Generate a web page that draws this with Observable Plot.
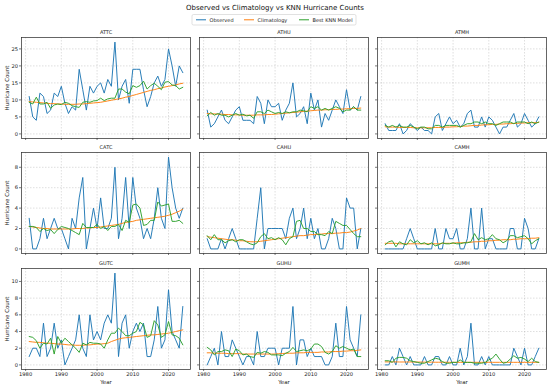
<!DOCTYPE html>
<html><head><meta charset="utf-8">
<script src="https://cdn.jsdelivr.net/npm/d3@7"></script>
<script src="https://cdn.jsdelivr.net/npm/@observablehq/plot@0.6"></script>
<style>
body{margin:0;background:#fff;}
#chart{position:relative;width:550px;height:388px;overflow:hidden;background:#fff;font-family:"DejaVu Sans",sans-serif;}
#chart svg{position:absolute;}
</style></head><body><div id="chart"></div>
<script>
const years = [1981,1982,1983,1984,1985,1986,1987,1988,1989,1990,1991,1992,1993,1994,1995,1996,1997,1998,1999,2000,2001,2002,2003,2004,2005,2006,2007,2008,2009,2010,2011,2012,2013,2014,2015,2016,2017,2018,2019,2020,2021,2022,2023,2024];

const ATTC_obs = [11,5,4,12,11,6,7,12,11,14, 9,6,8,7,19,13,7,14,12,14, 15,12,16,14,27,10,14,16,9,19, 19,19,13,8,11,15,17,14,16,25, 20,14,20,18];
const ATTC_clim = [9.5,9.4,9.3,9.2,9.1,9.0,8.9,8.9,8.8,8.8, 8.7,8.7,8.7,8.7,8.8,8.8,8.9,9.0,9.1,9.2, 9.3,9.5,9.7,9.9,10.1,10.3,10.5,10.8,11.0,11.3, 11.6,11.9,12.2,12.5,12.8,13.0,13.3,13.5,13.8,14.0, 14.2,14.4,14.7,14.9];
const ATTC_knn = [9.3,8.8,10.8,8.8,8.8,9.3,7.5,8.5,8.8,8.6, 9.3,9.0,8.3,8.0,7.8,9.3,9.5,9.3,9.7,9.8, 10.5,9.8,10.3,10.5,10.5,13.2,13.2,12.3,11.8,14.2, 13.7,14.2,15.5,13.2,14.2,14.9,14.0,13.0,15.2,15.4, 14.4,14.2,13.2,13.7];

const ATHU_obs = [7,2,3,5,7,4,3,5,7,8, 4,4,4,3,11,9,3,10,8,8, 9,4,7,9,15,5,6,8,3,12, 7,10,2,6,4,7,10,8,6,13, 7,8,7,11];
const ATHU_clim = [6.0,5.9,5.9,5.8,5.8,5.7,5.7,5.6,5.6,5.6, 5.5,5.5,5.5,5.5,5.6,5.6,5.6,5.7,5.7,5.8, 5.9,6.0,6.1,6.2,6.3,6.4,6.5,6.6,6.7,6.8, 6.9,7.0,7.0,7.1,7.1,7.2,7.2,7.3,7.3,7.4, 7.4,7.5,7.5,7.6];
const ATHU_knn = [5.3,6.3,5.5,6.0,5.5,5.5,5.0,5.5,6.0,5.5, 5.8,5.3,5.5,4.6,6.5,6.5,6.0,7.0,6.5,6.0, 6.3,6.0,6.5,6.2,6.5,6.5,7.0,6.8,6.5,8.0, 7.5,8.0,7.0,7.5,7.0,7.5,8.0,7.5,6.5,7.0, 7.0,8.0,7.0,7.0];

const ATMH_obs = [3,1,1,1,3,0,1,3,2,1, 2,1,1,0,5,6,1,3,5,3, 4,2,3,6,7,2,2,5,2,5, 4,2,0,2,2,4,6,2,3,6, 4,2,3,5];
const ATMH_clim = [2.1,2.0,2.0,2.0,1.9,1.9,1.9,1.9,1.8,1.8, 1.8,1.8,1.8,1.8,1.9,1.9,1.9,2.0,2.0,2.1, 2.1,2.2,2.3,2.3,2.4,2.5,2.5,2.6,2.7,2.7, 2.8,2.8,2.9,2.9,3.0,3.0,3.1,3.1,3.2,3.2, 3.3,3.3,3.3,3.4];
const ATMH_knn = [2.5,2.0,2.5,2.0,2.5,2.0,2.0,2.5,2.0,1.5, 2.0,2.0,1.5,1.5,2.5,2.5,2.0,2.5,2.5,2.5, 2.5,2.0,2.5,3.0,3.0,3.5,3.5,3.0,3.5,3.0, 3.0,2.5,3.0,3.5,3.5,3.5,3.0,3.5,3.5,3.5, 3.0,3.5,3.0,3.5];

const CATC_obs = [3,0,0,1,3,1,2,3,2,2, 1,0,3,2,5,7,0,2,4,2, 5,2,2,3,8,1,3,7,2,7, 4,3,1,2,1,3,6,3,2,9, 6,4,3,4];
const CATC_clim = [2.2,2.15,2.1,2.05,2.0,2.0,1.95,1.95,1.95,1.95, 1.95,1.95,1.95,2.0,2.0,2.0,2.05,2.05,2.1,2.1, 2.15,2.2,2.25,2.3,2.35,2.4,2.5,2.6,2.65,2.7, 2.8,2.85,2.9,2.95,3.0,3.05,3.1,3.15,3.2,3.3, 3.4,3.55,3.7,3.9];
const CATC_knn = [2.2,2.2,2.1,1.7,2.0,1.8,1.9,1.5,1.9,2.2, 2.1,2.0,1.8,1.6,1.4,2.5,2.1,2.1,2.1,2.4, 2.0,2.2,1.8,2.2,2.2,2.4,1.8,2.8,2.6,4.3, 4.4,4.0,2.3,2.4,2.8,2.8,4.6,4.2,4.3,4.4, 2.7,2.7,2.8,2.5];

const CAHU_obs = [1,0,0,0,1,0,1,2,1,0, 0,0,0,0,3,6,0,2,2,2, 2,2,1,3,4,1,2,4,1,3, 1,2,0,0,1,3,2,0,0,5, 4,4,0,2];
const CAHU_clim = [1.2,1.15,1.1,1.05,1.0,0.95,0.9,0.9,0.85,0.8, 0.8,0.75,0.7,0.7,0.7,0.75,0.8,0.85,0.9,0.95, 1.0,1.05,1.1,1.15,1.2,1.25,1.3,1.3,1.35,1.4, 1.4,1.45,1.45,1.5,1.5,1.5,1.55,1.55,1.6,1.6, 1.65,1.75,1.85,2.0];
const CAHU_knn = [1.3,0.9,1.4,0.9,0.9,0.6,0.8,0.9,0.7,0.9, 0.9,0.7,0.5,0.4,0.6,1.2,1.5,1.0,1.1,0.9, 1.1,0.9,0.4,1.0,1.2,2.7,2.8,2.0,2.0,1.7, 1.7,1.4,1.4,1.3,1.7,1.5,2.7,2.5,2.3,2.3, 1.9,1.5,1.2,1.2];

const CAMH_obs = [0,0,0,0,0,0,1,2,1,0, 0,0,0,0,2,0,0,2,1,1, 2,0,0,1,4,0,0,4,0,1, 1,0,0,0,0,2,2,0,0,3, 2,0,0,1];
const CAMH_clim = [0.55,0.55,0.55,0.55,0.5,0.5,0.5,0.5,0.5,0.5, 0.5,0.5,0.5,0.5,0.5,0.5,0.55,0.55,0.55,0.55, 0.6,0.6,0.6,0.65,0.65,0.7,0.7,0.75,0.75,0.8, 0.8,0.85,0.85,0.9,0.9,0.9,0.95,0.95,1.0,1.0, 1.0,1.05,1.05,1.1];
const CAMH_knn = [0.4,0.7,0.8,0.2,0.7,0.5,0.4,0.9,0.6,0.8, 0.5,0.6,0.4,0.6,0.3,0.4,0.6,0.5,0.5,0.6, 0.5,0.5,0.6,0.6,0.7,1.5,0.9,1.1,0.9,1.0, 1.4,1.0,0.9,0.6,0.8,1.3,1.3,1.1,1.2,1.3, 1.0,0.5,0.8,1.0];

const GUTC_obs = [1,2,2,1,5,1,2,5,2,3, 0,1,2,3,6,2,1,6,3,4, 3,5,6,5,11,1,5,6,2,4, 5,4,5,1,1,3,7,2,3,9, 4,3,2,7];
const GUTC_clim = [2.8,2.75,2.7,2.7,2.65,2.6,2.6,2.55,2.5,2.5, 2.45,2.4,2.4,2.35,2.35,2.35,2.4,2.4,2.45,2.5, 2.5,2.55,2.6,2.8,2.95,3.1,3.2,3.25,3.3,3.35, 3.4,3.45,3.5,3.55,3.6,3.6,3.65,3.7,3.75,3.8, 3.9,4.0,4.1,4.2];
const GUTC_knn = [3.4,3.3,2.9,2.0,2.6,2.5,3.2,1.3,3.4,2.6, 3.2,2.8,2.4,2.0,1.5,2.6,2.4,2.7,2.6,2.6, 2.5,2.0,3.0,3.8,3.8,4.4,4.0,3.5,3.5,3.8, 4.0,5.1,4.8,3.3,3.5,5.3,4.8,3.3,3.6,5.2, 3.6,3.5,3.2,2.4];

const GUHU_obs = [0,1,2,0,4,1,1,3,2,1, 0,1,1,0,4,1,1,2,2,2, 0,2,2,2,7,0,3,3,1,2, 1,1,1,0,0,1,5,1,1,7, 3,2,1,6];
const GUHU_clim = [1.45,1.45,1.4,1.4,1.4,1.4,1.35,1.35,1.35,1.35, 1.3,1.3,1.3,1.3,1.3,1.3,1.3,1.3,1.3,1.3, 1.35,1.35,1.4,1.4,1.4,1.45,1.45,1.45,1.5,1.5, 1.5,1.5,1.55,1.55,1.55,1.6,1.6,1.6,1.65,1.65, 1.7,1.7,1.75,1.8];
const GUHU_knn = [2.1,1.8,1.2,1.6,1.6,1.8,1.7,1.0,1.9,1.7, 1.2,1.3,1.0,0.9,1.5,1.4,1.6,1.5,1.2,1.2, 1.2,1.1,1.4,1.6,2.1,1.6,1.7,1.8,1.7,1.9, 2.5,2.5,2.2,1.5,1.3,1.6,2.3,2.0,2.2,2.0, 1.8,1.9,1.0,1.0];

const GUMH_obs = [0,0,1,0,2,1,0,1,0,0, 0,1,0,0,1,1,0,0,1,0, 0,2,0,1,5,0,0,1,0,1, 0,0,0,0,0,0,2,1,0,2, 0,0,1,2];
const GUMH_clim = [0.36,0.36,0.36,0.36,0.35,0.35,0.35,0.35,0.35,0.34, 0.34,0.33,0.33,0.33,0.32,0.32,0.32,0.32,0.31,0.31, 0.31,0.31,0.31,0.31,0.31,0.31,0.31,0.31,0.31,0.31, 0.31,0.31,0.31,0.31,0.31,0.31,0.31,0.31,0.31,0.31, 0.31,0.31,0.31,0.31];
const GUMH_knn = [0.5,0.5,0.3,0.8,0.9,0.9,0.8,0.5,0.4,0.3, 0.2,0.2,0.4,0.6,0.8,0.7,0.4,0.2,0.2,0.3, 0.3,0.6,0.3,0.3,0.3,0.2,0.2,0.2,0.3,0.6, 0.8,1.3,0.7,0.2,0.3,0.7,1.1,0.8,0.9,0.7, 0.4,0.8,0.4,0.3];

const gridSites = [["ATTC","ATHU","ATMH"],["CATC","CAHU","CAMH"],["GUTC","GUHU","GUMH"]];
const xTicks = [1980,1990,2000,2010,2020];
const rowTicks = [[0,5,10,15,20,25],[0,2,4,6,8],[0,2,4,6,8,10]];
const seriesNames = ["Observed","Climatology","Best KNN Model"];
const seriesColors = ["#1f77b4","#ff7f0e","#2ca02c"];
const titleText = "Observed vs Climatology vs KNN Hurricane Counts";

const series = {
  ATTC:[ATTC_obs,ATTC_clim,ATTC_knn], ATHU:[ATHU_obs,ATHU_clim,ATHU_knn], ATMH:[ATMH_obs,ATMH_clim,ATMH_knn],
  CATC:[CATC_obs,CATC_clim,CATC_knn], CAHU:[CAHU_obs,CAHU_clim,CAHU_knn], CAMH:[CAMH_obs,CAMH_clim,CAMH_knn],
  GUTC:[GUTC_obs,GUTC_clim,GUTC_knn], GUHU:[GUHU_obs,GUHU_clim,GUHU_knn], GUMH:[GUMH_obs,GUMH_clim,GUMH_knn]
};

const chart = document.getElementById("chart");
const font = "DejaVu Sans";

// header: title + legend
const head = d3.create("svg").attr("width",550).attr("height",30).style("left","0px").style("top","0px")
  .style("font-family",font);
head.append("text").attr("x",275).attr("y",8).attr("text-anchor","middle").attr("dominant-baseline","central")
  .attr("font-size",7).attr("fill","#111").text(titleText);
head.append("rect").attr("x",192).attr("y",14.5).attr("width",164).attr("height",10.5).attr("rx",1.5)
  .attr("fill","#fff").attr("stroke","#ccc").attr("stroke-width",0.6);
const legX = [196,244,299];
seriesNames.forEach((n,i)=>{
  head.append("line").attr("x1",legX[i]).attr("x2",legX[i]+10).attr("y1",19.8).attr("y2",19.8)
    .attr("stroke",seriesColors[i]).attr("stroke-width",1);
  head.append("text").attr("x",legX[i]+13.5).attr("y",19.8).attr("dominant-baseline","central")
    .attr("font-size",5).attr("fill","#222").text(n);
});
chart.appendChild(head.node());

const colLeft = [21,199,377];
const rowTop = [36.5,152,268];
const frameW = 169, frameH = 101;
const mL = 21, mR = 3, mT = 12, mB = 17;
const xDom = [years[0] - 0.05*(years[years.length-1]-years[0]), years[years.length-1] + 0.05*(years[years.length-1]-years[0])];

gridSites.forEach((row, r) => {
  const allVals = row.flatMap(s => series[s].flat());
  const [lo, hi] = d3.extent(allVals);
  const pad = 0.05*(hi-lo);
  const yDom = [lo-pad, hi+pad];
  row.forEach((site, c) => {
    const [obs, clim, knn] = series[site];
    const data = years.map((yr,i)=>({year:yr, obs:obs[i], clim:clim[i], knn:knn[i]}));
    const bottom = r === 2, left = c === 0;
    const marks = [
      Plot.gridX({ticks: xTicks, stroke:"#b0b0b0", strokeOpacity:0.8, strokeWidth:0.5, strokeDasharray:"1.5,1.5"}),
      Plot.gridY({ticks: rowTicks[r], stroke:"#b0b0b0", strokeOpacity:0.8, strokeWidth:0.5, strokeDasharray:"1.5,1.5"}),
      Plot.axisX({ticks: xTicks, tickSize:2, tickPadding:1, fontSize:5.2, label:null, strokeWidth:0.6,
        tickFormat: bottom ? (d=>String(d)) : (()=>"")}),
      Plot.axisY({ticks: rowTicks[r], tickSize:2, tickPadding:1.5, fontSize:5.2, label:null, strokeWidth:0.6,
        tickFormat: left ? (d=>String(d)) : (()=>"")}),
      Plot.line(data, {x:"year", y:"obs", stroke:seriesColors[0], strokeWidth:0.95}),
      Plot.line(data, {x:"year", y:"clim", stroke:seriesColors[1], strokeWidth:0.95}),
      Plot.line(data, {x:"year", y:"knn", stroke:seriesColors[2], strokeWidth:0.95}),
      Plot.frame({stroke:"#333", strokeWidth:0.75}),
      Plot.text([site], {text:d=>d, frameAnchor:"top", dy:-5.5, fontSize:5, fill:"#222", textAnchor:"middle", lineAnchor:"middle"})
    ];
    if (left) marks.push(Plot.text(["Hurricane Count"], {text:d=>d, frameAnchor:"left", dx:-14.5, rotate:-90, fontSize:5.5, fill:"#222", textAnchor:"middle", lineAnchor:"middle"}));
    if (bottom) marks.push(Plot.text(["Year"], {text:d=>d, frameAnchor:"bottom", dy:12.5, fontSize:5.5, fill:"#222", textAnchor:"middle", lineAnchor:"middle"}));
    const p = Plot.plot({
      width: frameW+mL+mR, height: frameH+mT+mB,
      marginLeft:mL, marginRight:mR, marginTop:mT, marginBottom:mB,
      x:{domain:xDom, axis:null},
      y:{domain:yDom, axis:null},
      style:{fontFamily:font, background:"transparent", color:"#222", overflow:"visible"},
      marks
    });
    p.style.left = (colLeft[c]-mL)+"px";
    p.style.top = (rowTop[r]-mT)+"px";
    p.style.maxWidth = "none";
    chart.appendChild(p);
  });
});
</script></body></html>
